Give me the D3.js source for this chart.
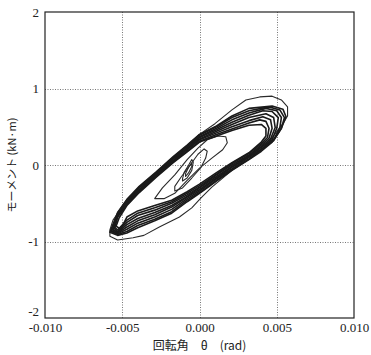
<!DOCTYPE html>
<html>
<head>
<meta charset="utf-8">
<script src="https://cdn.jsdelivr.net/npm/d3@7"></script>
<style>
  html, body { margin: 0; padding: 0; background: #fff; }
  svg { display: block; }
  .tick-label { font-family: "Liberation Serif", "DejaVu Serif", serif; font-size: 13px; fill: #222; }
  .axis-title { font-family: "Noto Sans CJK JP", sans-serif; fill: #222; }
</style>
</head>
<body>
<svg id="chart" width="371" height="355"></svg>
<script>
// Axis ticks
const xTicks = [-0.010, -0.005, 0.000, 0.005, 0.010];
const xTickLabels = ["-0.010", "-0.005", "0.000", "0.005", "0.010"];
const yTicks = [-2, -1, 0, 1, 2];
const yTickLabels = ["-2", "-1", "0", "1", "2"];

// Small loops near the origin (rotation θ [rad], moment [kN·m])
const loopSmall1 = [[-0.0009,-0.15],[-0.0007,-0.10],[-0.0005,-0.02],[-0.0005,0.03],[-0.0007,-0.03],[-0.0009,-0.11]];
const loopSmall2 = [[-0.0011,-0.21],[-0.0008,-0.17],[-0.0005,-0.07],[-0.0004,0.04],[-0.0005,0.07],[-0.0007,0.00],[-0.0010,-0.10],[-0.0011,-0.18]];
const loopSmall3 = [[-0.0016,-0.34],[-0.0011,-0.30],[-0.0005,-0.17],[0.0001,-0.03],[0.0004,0.09],[0.0005,0.18],[0.0003,0.21],[-0.0001,0.14],[-0.0006,0.00],[-0.0012,-0.16],[-0.0016,-0.28]];
const loopMedium = [[-0.0029,-0.44],[-0.0023,-0.44],[-0.0016,-0.37],[-0.0008,-0.20],[0.0000,-0.04],[0.0008,0.09],[0.0015,0.20],[0.0018,0.29],[0.0017,0.37],[0.0012,0.38],[0.0005,0.33],[-0.0001,0.22],[-0.0008,0.07],[-0.0016,-0.13],[-0.0024,-0.30],[-0.0028,-0.41]];

// Repeated cycles at the main amplitude
const cycle1 = [[-0.0054,-0.80],[-0.0051,-0.84],[-0.0047,-0.68],[-0.0040,-0.60],[-0.0029,-0.53],[-0.0018,-0.46],[-0.0008,-0.35],[0.0000,-0.25],[0.0011,-0.10],[0.0021,0.03],[0.0032,0.16],[0.0040,0.30],
  [0.0043,0.38],[0.0043,0.48],[0.0040,0.53],
  [0.0032,0.52],[0.0021,0.45],[0.0011,0.38],[0.0000,0.30],[-0.0008,0.17],[-0.0017,0.03],[-0.0028,-0.16],[-0.0039,-0.36],[-0.0047,-0.53],[-0.0052,-0.69]];
const cycle2 = [[-0.0055,-0.81],[-0.0053,-0.85],[-0.0047,-0.72],[-0.0040,-0.63],[-0.0029,-0.56],[-0.0018,-0.48],[-0.0008,-0.37],[0.0000,-0.27],[0.0011,-0.12],[0.0021,0.02],[0.0032,0.15],[0.0040,0.28],
  [0.0044,0.36],[0.0045,0.48],[0.0043,0.57],[0.0039,0.59],
  [0.0032,0.55],[0.0021,0.47],[0.0011,0.40],[0.0000,0.31],[-0.0008,0.18],[-0.0017,0.04],[-0.0028,-0.15],[-0.0039,-0.35],[-0.0047,-0.52],[-0.0053,-0.68]];
const cycle3 = [[-0.0055,-0.83],[-0.0053,-0.87],[-0.0047,-0.75],[-0.0040,-0.66],[-0.0029,-0.59],[-0.0018,-0.50],[-0.0008,-0.39],[0.0000,-0.29],[0.0011,-0.13],[0.0021,0.00],[0.0032,0.13],[0.0040,0.26],
  [0.0045,0.35],[0.0047,0.48],[0.0046,0.59],[0.0041,0.63],
  [0.0032,0.58],[0.0021,0.50],[0.0011,0.42],[0.0000,0.33],[-0.0008,0.20],[-0.0017,0.05],[-0.0028,-0.14],[-0.0039,-0.34],[-0.0047,-0.51],[-0.0053,-0.67]];
const cycle4 = [[-0.0056,-0.84],[-0.0053,-0.88],[-0.0047,-0.78],[-0.0040,-0.70],[-0.0029,-0.62],[-0.0018,-0.53],[-0.0008,-0.41],[0.0000,-0.30],[0.0011,-0.15],[0.0021,-0.02],[0.0032,0.12],[0.0040,0.24],
  [0.0046,0.34],[0.0049,0.49],[0.0048,0.62],[0.0043,0.67],
  [0.0032,0.62],[0.0021,0.53],[0.0011,0.44],[0.0000,0.34],[-0.0008,0.21],[-0.0017,0.06],[-0.0028,-0.13],[-0.0039,-0.33],[-0.0047,-0.50],[-0.0053,-0.66]];
const cycle5 = [[-0.0056,-0.85],[-0.0053,-0.89],[-0.0047,-0.81],[-0.0040,-0.73],[-0.0029,-0.65],[-0.0018,-0.55],[-0.0008,-0.42],[0.0000,-0.32],[0.0011,-0.17],[0.0021,-0.03],[0.0032,0.11],[0.0040,0.23],
  [0.0047,0.33],[0.0050,0.48],[0.0051,0.62],[0.0047,0.70],[0.0041,0.71],
  [0.0032,0.65],[0.0021,0.56],[0.0011,0.46],[0.0000,0.36],[-0.0008,0.22],[-0.0017,0.08],[-0.0028,-0.12],[-0.0039,-0.32],[-0.0047,-0.49],[-0.0053,-0.65]];
const cycle6 = [[-0.0057,-0.86],[-0.0053,-0.90],[-0.0047,-0.84],[-0.0040,-0.76],[-0.0029,-0.68],[-0.0018,-0.58],[-0.0008,-0.44],[0.0000,-0.34],[0.0011,-0.18],[0.0021,-0.05],[0.0032,0.10],[0.0040,0.21],
  [0.0048,0.33],[0.0052,0.49],[0.0053,0.62],[0.0050,0.71],[0.0043,0.74],
  [0.0032,0.68],[0.0021,0.59],[0.0011,0.48],[0.0000,0.37],[-0.0008,0.24],[-0.0017,0.09],[-0.0028,-0.11],[-0.0039,-0.30],[-0.0047,-0.48],[-0.0053,-0.64]];
const cycle7 = [[-0.0057,-0.87],[-0.0053,-0.91],[-0.0047,-0.87],[-0.0040,-0.79],[-0.0029,-0.71],[-0.0018,-0.61],[-0.0008,-0.46],[0.0000,-0.36],[0.0011,-0.20],[0.0021,-0.06],[0.0032,0.08],[0.0040,0.20],
  [0.0048,0.32],[0.0053,0.48],[0.0055,0.62],[0.0052,0.72],[0.0045,0.76],
  [0.0032,0.71],[0.0021,0.62],[0.0011,0.50],[0.0000,0.39],[-0.0008,0.25],[-0.0017,0.10],[-0.0028,-0.10],[-0.0039,-0.29],[-0.0047,-0.46],[-0.0053,-0.63]];
const cycle8 = [[-0.0058,-0.88],[-0.0053,-0.92],[-0.0047,-0.89],[-0.0040,-0.82],[-0.0029,-0.73],[-0.0018,-0.63],[-0.0008,-0.48],[0.0000,-0.37],[0.0011,-0.21],[0.0021,-0.07],[0.0032,0.07],[0.0040,0.18],
  [0.0047,0.30],[0.0053,0.48],[0.0056,0.63],[0.0054,0.73],[0.0047,0.77],
  [0.0032,0.74],[0.0021,0.64],[0.0011,0.51],[0.0000,0.40],[-0.0008,0.26],[-0.0017,0.11],[-0.0028,-0.09],[-0.0039,-0.28],[-0.0047,-0.45],[-0.0053,-0.62]];

// Largest cycle
const loopOuter = [[-0.0058,-0.93],[-0.0053,-0.98],[-0.0043,-0.95],[-0.0036,-0.92],[-0.0026,-0.81],[-0.0013,-0.68],[-0.0005,-0.56],[0.0001,-0.43],[0.0008,-0.29],[0.0021,-0.07],[0.0034,0.10],[0.0043,0.25],[0.0049,0.41],[0.0054,0.54],[0.0057,0.64],[0.0057,0.76],[0.0053,0.85],[0.0047,0.90],[0.0039,0.89],[0.0030,0.85],[0.0021,0.72],[0.0010,0.54],[0.0000,0.40],[-0.0013,0.16],[-0.0026,-0.07],[-0.0039,-0.29],[-0.0049,-0.52],[-0.0056,-0.72],[-0.0058,-0.85]];

const innerLoops = [loopSmall1, loopSmall2, loopSmall3, loopMedium, loopOuter];
const mainCycles = [cycle1, cycle2, cycle3, cycle4, cycle5, cycle6, cycle7, cycle8];

const svg = d3.select("#chart");
const margin = { left: 45, right: 17, top: 12, bottom: 37 };
const W = 371, H = 355;

const x = d3.scaleLinear().domain([-0.010, 0.010]).range([margin.left, W - margin.right]);
const y = d3.scaleLinear().domain([-2, 2]).range([H - margin.bottom, margin.top]);

// Dotted grid
const grid = svg.append("g");
grid.selectAll("line.gx").data(xTicks.slice(1, -1)).join("line")
  .attr("x1", d => Math.round(x(d)) + 0.5).attr("x2", d => Math.round(x(d)) + 0.5)
  .attr("y1", y(2)).attr("y2", y(-2))
  .attr("stroke", "#777").attr("stroke-width", 1).attr("stroke-dasharray", "1,1.5");
grid.selectAll("line.gy").data(yTicks.slice(1, -1)).join("line")
  .attr("y1", d => Math.round(y(d)) + 0.5).attr("y2", d => Math.round(y(d)) + 0.5)
  .attr("x1", x(-0.010)).attr("x2", x(0.010))
  .attr("stroke", "#777").attr("stroke-width", 1).attr("stroke-dasharray", "1,1.5");

// Hysteresis loops
const line = d3.line().x(d => x(d[0])).y(d => y(d[1])).curve(d3.curveLinearClosed);
const loopGroup = svg.append("g").attr("fill", "none").attr("stroke-linejoin", "round");
loopGroup.selectAll("path.inner").data(innerLoops).join("path")
  .attr("class", "inner").attr("d", line)
  .attr("stroke", "#2a2a2a").attr("stroke-width", 1.1);
loopGroup.selectAll("path.main").data(mainCycles).join("path")
  .attr("class", "main").attr("d", line)
  .attr("stroke", "#1a1a1a").attr("stroke-width", 1.6);

// Frame
svg.append("rect")
  .attr("x", x(-0.010)).attr("y", y(2))
  .attr("width", x(0.010) - x(-0.010)).attr("height", y(-2) - y(2))
  .attr("fill", "none").attr("stroke", "#222").attr("stroke-width", 1.2);

// Axes (labels only)
const xAxis = d3.axisBottom(x).tickValues(xTicks).tickSize(0).tickPadding(5)
  .tickFormat((d, i) => xTickLabels[i]);
const gx = svg.append("g").attr("transform", `translate(0,${y(-2)})`).call(xAxis);
gx.select(".domain").remove();
gx.selectAll("text").attr("class", "tick-label").attr("font-size", null).attr("font-family", null).attr("fill", null);

const yAxis = d3.axisLeft(y).tickValues(yTicks).tickSize(0).tickPadding(6)
  .tickFormat((d, i) => yTickLabels[i]);
const gy = svg.append("g").attr("transform", `translate(${x(-0.010)},0)`).call(yAxis);
gy.select(".domain").remove();
gy.selectAll("text").attr("class", "tick-label").attr("font-size", null).attr("font-family", null).attr("fill", null);
// the bottom label sits just above the x labels
gy.selectAll(".tick").filter(d => d === -2).select("text").attr("y", -7);

// Axis titles
svg.append("text").attr("class", "axis-title")
  .attr("x", x(0)).attr("y", 350).attr("text-anchor", "middle").attr("font-size", 12)
  .text("回転角\u3000θ\u3000(rad)");
svg.append("text").attr("class", "axis-title")
  .attr("transform", `translate(16,${y(0)}) rotate(-90)`)
  .attr("text-anchor", "middle").attr("font-size", 11)
  .text("モーメント (kN·m)");
</script>
</body>
</html>
